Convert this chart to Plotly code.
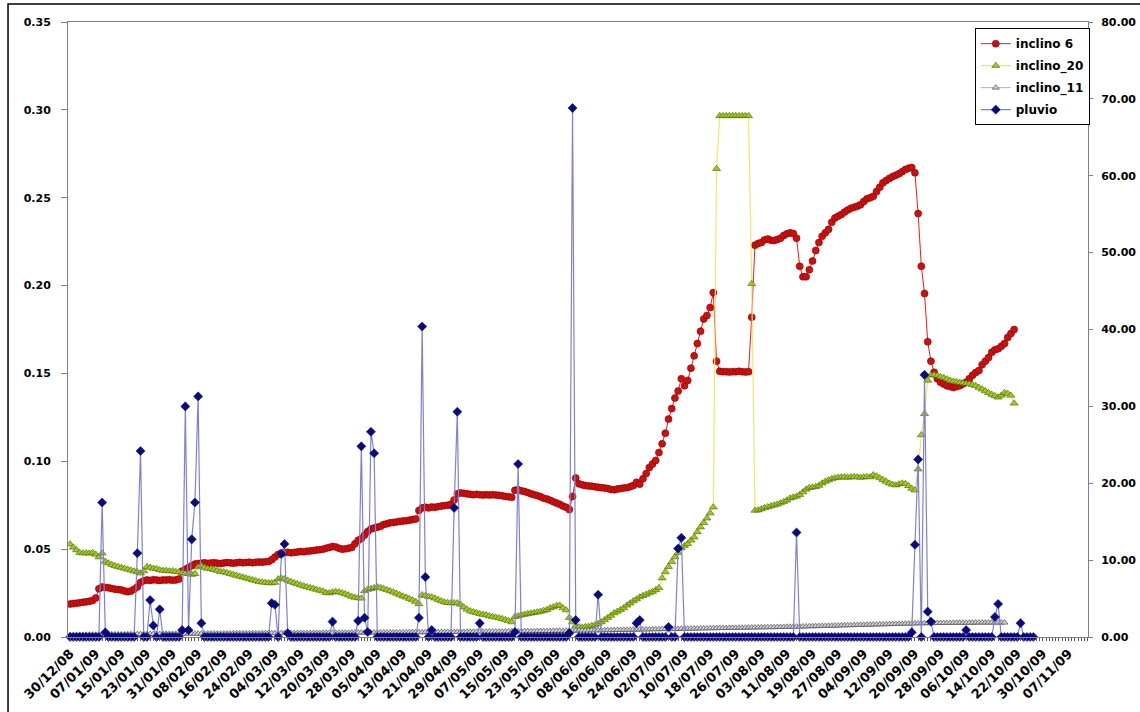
import pandas as pd
import plotly.graph_objects as go

START = "2008-12-30"

# inclinometer readings (daily, from 30/12/08)
inclino_6 = [
    0.0188, 0.0190, 0.0192, 0.0195, 0.0198, 0.0200, 0.0203, 0.0208, 0.0222, 0.0275,
    0.0285, 0.0282, 0.0280, 0.0276, 0.0272, 0.0270, 0.0268, 0.0262, 0.0258, 0.0262,
    0.0272, 0.0285, 0.0310, 0.0320, 0.0325, 0.0322, 0.0326, 0.0324, 0.0322, 0.0325,
    0.0324, 0.0326, 0.0323, 0.0325, 0.0330, 0.0375, 0.0385, 0.0395, 0.0405, 0.0415,
    0.0418, 0.0420, 0.0422, 0.0419, 0.0421, 0.0423, 0.0420, 0.0418, 0.0421, 0.0424,
    0.0422, 0.0420, 0.0423, 0.0425, 0.0422, 0.0424, 0.0426, 0.0423, 0.0425, 0.0427,
    0.0426, 0.0428, 0.0430, 0.0440, 0.0455, 0.0470, 0.0478, 0.0480, 0.0482, 0.0479,
    0.0481, 0.0484, 0.0486, 0.0485, 0.0488, 0.0490, 0.0492, 0.0495, 0.0497, 0.0500,
    0.0505, 0.0510, 0.0515, 0.0512, 0.0505, 0.0500, 0.0502, 0.0505, 0.0510, 0.0530,
    0.0550, 0.0560, 0.0580, 0.0600, 0.0615, 0.0620, 0.0625, 0.0630, 0.0640, 0.0645,
    0.0650, 0.0652, 0.0655, 0.0658, 0.0660, 0.0662, 0.0665, 0.0668, 0.0672, 0.0720,
    0.0735, 0.0738, 0.0735, 0.0740, 0.0738, 0.0742, 0.0745, 0.0748, 0.0750, 0.0755,
    0.0780, 0.0815, 0.0820, 0.0818, 0.0815, 0.0812, 0.0810, 0.0812, 0.0810, 0.0808,
    0.0810, 0.0808, 0.0810, 0.0808, 0.0806, 0.0804, 0.0800, 0.0798, 0.0795, 0.0835,
    0.0838, 0.0832, 0.0828, 0.0822, 0.0815, 0.0810, 0.0805, 0.0798, 0.0790, 0.0785,
    0.0778, 0.0770, 0.0762, 0.0755, 0.0745, 0.0738, 0.0725, 0.0800, 0.0905, 0.0872,
    0.0866, 0.0862, 0.0860, 0.0858, 0.0855, 0.0852, 0.0850, 0.0848, 0.0845, 0.0840,
    0.0838, 0.0842, 0.0845, 0.0848, 0.0850, 0.0855, 0.0862, 0.0880, 0.0870, 0.0900,
    0.0930, 0.0965, 0.0985, 0.1005, 0.1050, 0.1100, 0.1160, 0.1240, 0.1300, 0.1360,
    0.1400, 0.1470, 0.1430, 0.1460, 0.1530, 0.1600, 0.1670, 0.1740, 0.1810, 0.1830,
    0.1875, 0.1960, 0.1570, 0.1512, 0.1510, 0.1510, 0.1508, 0.1510, 0.1510, 0.1512,
    0.1510, 0.1508, 0.1510, 0.1820, 0.2230, 0.2240, 0.2245, 0.2260, 0.2265, 0.2258,
    0.2256, 0.2262, 0.2270, 0.2285, 0.2295, 0.2300, 0.2296, 0.2270, 0.2110, 0.2050,
    0.2050, 0.2090, 0.2140, 0.2200, 0.2245, 0.2280, 0.2300, 0.2320, 0.2360, 0.2385,
    0.2395, 0.2405, 0.2418, 0.2430, 0.2440, 0.2446, 0.2452, 0.2460, 0.2478, 0.2494,
    0.2500, 0.2508, 0.2535, 0.2560, 0.2585, 0.2598, 0.2610, 0.2620, 0.2628, 0.2636,
    0.2648, 0.2660, 0.2668, 0.2672, 0.2642, 0.2410, 0.2110, 0.1955, 0.1680, 0.1570,
    0.1506, 0.1470, 0.1450, 0.1440, 0.1430, 0.1425, 0.1420, 0.1425, 0.1430, 0.1440,
    0.1450, 0.1470, 0.1490, 0.1505, 0.1517, 0.1550, 0.1570, 0.1590, 0.1620, 0.1635,
    0.1640, 0.1655, 0.1670, 0.1705, 0.1727, 0.1750,
]

inclino_20 = [
    0.0528, 0.0510, 0.0495, 0.0480, 0.0477, 0.0478, 0.0476, 0.0480, 0.0470, 0.0455,
    0.0477, 0.0430, 0.0420, 0.0412, 0.0405, 0.0400, 0.0395, 0.0390, 0.0385, 0.0380,
    0.0375, 0.0370, 0.0363, 0.0375, 0.0400, 0.0395, 0.0390, 0.0388, 0.0382, 0.0378,
    0.0378, 0.0375, 0.0376, 0.0372, 0.0370, 0.0365, 0.0362, 0.0360, 0.0355, 0.0360,
    0.0398, 0.0405, 0.0395, 0.0390, 0.0388, 0.0383, 0.0378, 0.0372, 0.0370, 0.0365,
    0.0360, 0.0355, 0.0350, 0.0345, 0.0340, 0.0335, 0.0330, 0.0325, 0.0320, 0.0315,
    0.0312, 0.0310, 0.0308, 0.0307, 0.0310, 0.0330, 0.0335, 0.0330, 0.0322, 0.0315,
    0.0308, 0.0302, 0.0296, 0.0290, 0.0285, 0.0280, 0.0276, 0.0270, 0.0265, 0.0260,
    0.0252, 0.0250, 0.0255, 0.0258, 0.0256, 0.0250, 0.0245, 0.0238, 0.0230, 0.0225,
    0.0222, 0.0220, 0.0262, 0.0270, 0.0275, 0.0280, 0.0284, 0.0280, 0.0275, 0.0268,
    0.0262, 0.0255, 0.0248, 0.0240, 0.0232, 0.0226, 0.0218, 0.0210, 0.0200, 0.0188,
    0.0239, 0.0235, 0.0230, 0.0227, 0.0220, 0.0212, 0.0205, 0.0198, 0.0195, 0.0193,
    0.0194, 0.0193, 0.0185, 0.0170, 0.0158, 0.0148, 0.0142, 0.0138, 0.0132, 0.0128,
    0.0125, 0.0120, 0.0115, 0.0112, 0.0108, 0.0104, 0.0098, 0.0092, 0.0085, 0.0115,
    0.0120, 0.0125, 0.0128, 0.0132, 0.0135, 0.0138, 0.0142, 0.0145, 0.0150, 0.0155,
    0.0165, 0.0170, 0.0178, 0.0180, 0.0165, 0.0153, 0.0110, 0.0085, 0.0065, 0.0057,
    0.0055, 0.0058, 0.0060, 0.0064, 0.0068, 0.0075, 0.0085, 0.0097, 0.0110, 0.0122,
    0.0136, 0.0145, 0.0155, 0.0165, 0.0180, 0.0192, 0.0205, 0.0215, 0.0227, 0.0235,
    0.0242, 0.0250, 0.0258, 0.0268, 0.0280, 0.0335, 0.0370, 0.0400, 0.0428, 0.0455,
    0.0480, 0.0506, 0.0520, 0.0530, 0.0550, 0.0568, 0.0598, 0.0625, 0.0650, 0.0676,
    0.0705, 0.0739, 0.2665, 0.2966, 0.2966, 0.2966, 0.2966, 0.2966, 0.2966, 0.2966,
    0.2966, 0.2966, 0.2966, 0.2010, 0.0720, 0.0722, 0.0728, 0.0735, 0.0740, 0.0745,
    0.0750, 0.0755, 0.0762, 0.0770, 0.0778, 0.0790, 0.0795, 0.0800, 0.0810, 0.0825,
    0.0840, 0.0850, 0.0852, 0.0855, 0.0862, 0.0875, 0.0885, 0.0893, 0.0900, 0.0905,
    0.0908, 0.0910, 0.0910, 0.0908, 0.0910, 0.0912, 0.0910, 0.0908, 0.0910, 0.0912,
    0.0910, 0.0922, 0.0915, 0.0905, 0.0895, 0.0885, 0.0875, 0.0868, 0.0864, 0.0870,
    0.0875, 0.0872, 0.0860, 0.0845, 0.0835, 0.0955, 0.1150, 0.1270, 0.1460, 0.1490,
    0.1492, 0.1488, 0.1480, 0.1475, 0.1468, 0.1460, 0.1455, 0.1452, 0.1448, 0.1445,
    0.1442, 0.1440, 0.1435, 0.1430, 0.1420, 0.1410, 0.1400, 0.1390, 0.1380, 0.1372,
    0.1364, 0.1375, 0.1390, 0.1385, 0.1375, 0.1330,
]

inclino_11 = [
    0.0011, 0.0011, 0.0012, 0.0012, 0.0012, 0.0013, 0.0013, 0.0013, 0.0013, 0.0014,
    0.0014, 0.0014, 0.0014, 0.0015, 0.0015, 0.0015, 0.0015, 0.0015, 0.0016, 0.0016,
    0.0016, 0.0016, 0.0016, 0.0017, 0.0017, 0.0017, 0.0017, 0.0017, 0.0017, 0.0018,
    0.0018, 0.0018, 0.0018, 0.0018, 0.0018, 0.0018, 0.0019, 0.0019, 0.0019, 0.0019,
    0.0019, 0.0019, 0.0019, 0.0020, 0.0020, 0.0020, 0.0020, 0.0020, 0.0020, 0.0020,
    0.0020, 0.0021, 0.0021, 0.0021, 0.0021, 0.0021, 0.0021, 0.0021, 0.0021, 0.0021,
    0.0022, 0.0022, 0.0022, 0.0022, 0.0022, 0.0022, 0.0022, 0.0022, 0.0022, 0.0023,
    0.0023, 0.0023, 0.0023, 0.0023, 0.0023, 0.0023, 0.0023, 0.0023, 0.0023, 0.0024,
    0.0024, 0.0024, 0.0024, 0.0024, 0.0024, 0.0024, 0.0024, 0.0024, 0.0025, 0.0025,
    0.0025, 0.0025, 0.0025, 0.0025, 0.0025, 0.0025, 0.0025, 0.0026, 0.0026, 0.0026,
    0.0026, 0.0026, 0.0026, 0.0026, 0.0026, 0.0027, 0.0027, 0.0027, 0.0027, 0.0027,
    0.0027, 0.0027, 0.0028, 0.0028, 0.0028, 0.0028, 0.0028, 0.0028, 0.0029, 0.0029,
    0.0029, 0.0029, 0.0029, 0.0029, 0.0030, 0.0030, 0.0030, 0.0030, 0.0030, 0.0030,
    0.0031, 0.0031, 0.0031, 0.0031, 0.0031, 0.0031, 0.0032, 0.0032, 0.0032, 0.0032,
    0.0032, 0.0033, 0.0033, 0.0033, 0.0033, 0.0033, 0.0034, 0.0034, 0.0034, 0.0034,
    0.0034, 0.0035, 0.0035, 0.0035, 0.0035, 0.0036, 0.0036, 0.0036, 0.0036, 0.0037,
    0.0037, 0.0037, 0.0037, 0.0038, 0.0038, 0.0038, 0.0038, 0.0039, 0.0039, 0.0039,
    0.0040, 0.0040, 0.0040, 0.0041, 0.0041, 0.0041, 0.0042, 0.0042, 0.0042, 0.0043,
    0.0043, 0.0043, 0.0044, 0.0044, 0.0044, 0.0045, 0.0045, 0.0045, 0.0046, 0.0046,
    0.0046, 0.0047, 0.0047, 0.0047, 0.0048, 0.0048, 0.0048, 0.0049, 0.0049, 0.0049,
    0.0050, 0.0050, 0.0050, 0.0051, 0.0051, 0.0051, 0.0052, 0.0052, 0.0052, 0.0053,
    0.0053, 0.0053, 0.0054, 0.0054, 0.0054, 0.0055, 0.0055, 0.0055, 0.0056, 0.0056,
    0.0056, 0.0057, 0.0057, 0.0057, 0.0058, 0.0058, 0.0058, 0.0059, 0.0059, 0.0060,
    0.0060, 0.0061, 0.0061, 0.0062, 0.0062, 0.0063, 0.0063, 0.0064, 0.0064, 0.0065,
    0.0065, 0.0066, 0.0066, 0.0067, 0.0067, 0.0068, 0.0068, 0.0069, 0.0069, 0.0070,
    0.0070, 0.0071, 0.0071, 0.0072, 0.0072, 0.0073, 0.0073, 0.0074, 0.0074, 0.0075,
    0.0075, 0.0076, 0.0076, 0.0077, 0.0077, 0.0078, 0.0078, 0.0078, 0.0079, 0.0079,
    0.0079, 0.0080, 0.0080, 0.0080, 0.0080, 0.0080, 0.0081, 0.0081, 0.0081, 0.0081,
    0.0081, 0.0081, 0.0081, 0.0082, 0.0082, 0.0082, 0.0082, 0.0082, 0.0082, 0.0082,
    0.0082, 0.0082, 0.0082,
]

# rainfall (mm): number of recorded days, and the days (offset from start) with rain
pluvio_days_count = 302
rain_day = [10, 11, 21, 22, 25, 26, 28, 35, 36, 37, 38, 39, 40, 41,
            63, 64, 66, 67, 68, 82, 90, 91, 92, 93, 94, 95,
            109, 110, 111, 113, 120, 121, 128, 139, 140,
            156, 157, 158, 165, 177, 178, 187, 190, 191, 227,
            263, 264, 265, 267, 268, 269, 280, 289, 290, 297]
rain_mm = [17.5, 0.6, 10.9, 24.2, 4.8, 1.5, 3.6, 0.9, 30.0, 0.9, 12.7, 17.5, 31.3, 1.8,
           4.4, 4.2, 10.8, 12.1, 0.5, 2.0, 2.1, 24.8, 2.5, 0.65, 26.7, 23.9,
           2.5, 40.4, 7.8, 0.9, 16.8, 29.3, 1.8, 0.65, 22.5,
           0.5, 68.8, 2.2, 5.5, 1.8, 2.2, 1.3, 11.5, 12.9, 13.6,
           0.6, 12.0, 23.1, 34.1, 3.3, 2.0, 0.9, 2.6, 4.3, 1.8]

pluvio = [0.0] * pluvio_days_count
for d, mm in zip(rain_day, rain_mm):
    pluvio[d] = mm

left_ticks = [0.0, 0.05, 0.10, 0.15, 0.20, 0.25, 0.30, 0.35]
right_ticks = [0, 10, 20, 30, 40, 50, 60, 70, 80]


def days(n):
    return pd.date_range(START, periods=n, freq="D")


axis_days = pd.date_range(START, "2009-11-13", freq="D")
axis_text = [d.strftime("%d/%m/%y") if i % 8 == 0 else "" for i, d in enumerate(axis_days)]
x_range = ["2008-12-29 08:00", "2009-11-13 02:00"]

FONT = "DejaVu Sans"
fig = go.Figure()

fig.add_trace(go.Scatter(
    x=days(len(inclino_6)), y=inclino_6, name="inclino 6", mode="lines+markers",
    legendgroup="a",
    line=dict(color="#F01818", width=1),
    marker=dict(symbol="circle", size=7, color="#CC1010", line=dict(color="#8A0000", width=0.6)),
))
fig.add_trace(go.Scatter(
    x=days(len(inclino_20)), y=inclino_20, name="inclino_20", mode="lines+markers",
    legendgroup="b",
    line=dict(color="#F4E56A", width=1.2),
    marker=dict(symbol="triangle-up", size=7, color="#9DCB16", line=dict(color="#4F5A10", width=0.6)),
))
fig.add_trace(go.Scatter(
    x=days(len(inclino_11)), y=inclino_11, name="inclino_11", mode="lines+markers",
    legendgroup="c",
    line=dict(color="#B0B0B0", width=1),
    marker=dict(symbol="triangle-up", size=6, color="#D0D0D0", line=dict(color="#505050", width=0.7)),
))
fig.add_trace(go.Scatter(
    x=days(len(pluvio)), y=pluvio, name="pluvio", mode="lines+markers", yaxis="y2",
    legendgroup="d",
    line=dict(color="#7F80D8", width=1.2),
    marker=dict(symbol="diamond", size=7, color="#0A0A80", line=dict(color="#000060", width=0.5)),
    cliponaxis=False,
))

tick_font = dict(family=FONT, size=11, color="#000000", weight="bold")
date_font = dict(family=FONT, size=13, color="#000000", weight="bold")

fig.update_layout(
    width=1140, height=712, autosize=False,
    margin=dict(l=68, r=52, t=22, b=75, pad=0),
    paper_bgcolor="#FFFFFF", plot_bgcolor="#FFFFFF",
    showlegend=True,
    legend=dict(
        x=0.889, y=0.99, xanchor="left", yanchor="top",
        bgcolor="#FFFFFF", bordercolor="#000000", borderwidth=1,
        font=dict(family=FONT, size=12, color="#000000", weight="bold"),
        tracegroupgap=3,
    ),
    xaxis=dict(
        type="date", range=x_range, automargin=False,
        tickmode="array", tickvals=axis_days, ticktext=axis_text,
        tickangle=-45, tickfont=date_font,
        ticks="outside", ticklen=3, tickcolor="#555555", tickwidth=1,
        showline=True, linecolor="#808080", linewidth=1, mirror=True,
        showgrid=False, zeroline=False,
    ),
    xaxis2=dict(
        type="date", overlaying="x", anchor="y", range=x_range, automargin=False,
        tickmode="array", tickvals=axis_days, showticklabels=False,
        ticks="inside", ticklen=3, tickcolor="#555555", tickwidth=1,
        showline=False, showgrid=False, zeroline=False,
    ),
    yaxis=dict(
        range=[0, 0.35], tickmode="array", tickvals=left_ticks, tickformat=".2f",
        automargin=False,
        tickfont=tick_font, ticks="outside", ticklen=6, tickcolor="#808080",
        ticklabelstandoff=8,
        showline=True, linecolor="#808080", linewidth=1,
        showgrid=False, zeroline=False,
    ),
    yaxis2=dict(
        range=[0, 80], tickmode="array", tickvals=right_ticks, tickformat=".2f",
        overlaying="y", side="right", anchor="x", automargin=False,
        tickfont=tick_font, ticks="outside", ticklen=4, tickcolor="#808080",
        ticklabelstandoff=6,
        showline=True, linecolor="#808080", linewidth=1,
        showgrid=False, zeroline=False,
    ),
    shapes=[dict(
        type="rect", xref="paper", yref="paper",
        x0=-0.0588, x1=1.08, y0=-0.2, y1=1.0293,
        line=dict(color="#000000", width=1.5), fillcolor="rgba(0,0,0,0)", layer="above",
    )],
)

fig.write_html("out.html")
